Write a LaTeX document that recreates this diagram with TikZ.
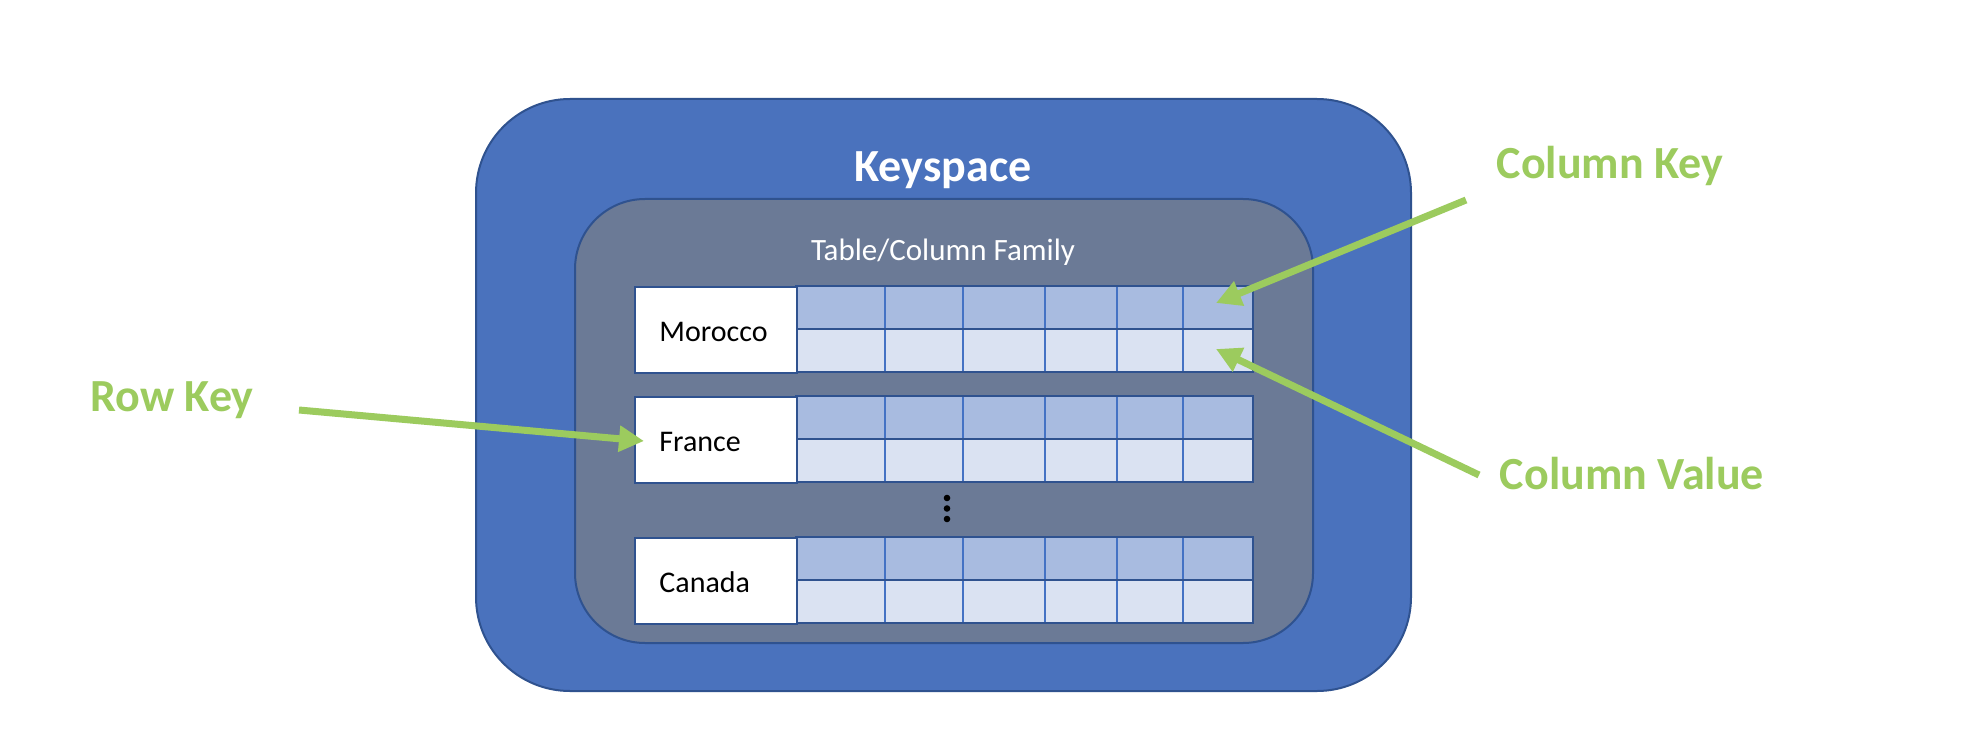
\documentclass[tikz,border=0pt]{standalone}
\usepackage{fontspec}
\setmainfont{Carlito}
\usetikzlibrary{arrows.meta}
\definecolor{ksfill}{HTML}{4A72BD}
\definecolor{ksline}{HTML}{2F528F}
\definecolor{tbfill}{HTML}{6B7A96}
\definecolor{toprow}{HTML}{A8BBE0}
\definecolor{botrow}{HTML}{DAE2F2}
\definecolor{colline}{HTML}{4472C4}
\definecolor{keygreen}{HTML}{9CCB5E}
\tikzset{
  keyspacebox/.style={fill=ksfill, draw=ksline, line width=1pt, rounded corners=47pt},
  tablebox/.style={fill=tbfill, draw=ksline, line width=1pt, rounded corners=35pt},
  labbox/.style={draw=ksline, fill=white, line width=1.2pt, minimum width=81pt, minimum height=43pt, anchor=north west, inner sep=0pt},
  labtext/.style={font=\fontsize{15}{18}\selectfont, anchor=base west, inner sep=0pt},
  greenlab/.style={font=\fontsize{23}{27}\selectfont\bfseries, text=keygreen, inner sep=0pt},
  greenarrow/.style={draw=keygreen, line width=3.5pt, -{Triangle[length=12.5pt,width=12.5pt]}},
  gridouter/.style={draw=ksline, line width=1.3pt},
  gridcol/.style={draw=colline, line width=0.6pt}
}
\begin{document}
\begin{tikzpicture}[x=0.5pt,y=-0.5pt]
\useasboundingbox (0,0) rectangle (1974,754);
\fill[white] (0,0) rectangle (1974,754);
% Keyspace
\draw[keyspacebox] (476,99) rectangle (1411,691);
\node[font=\fontsize{23}{27}\selectfont\bfseries, text=white, anchor=base, inner sep=0pt] (ks) at (943,182) {Keyspace};
% Table / Column family
\draw[tablebox] (575,199) rectangle (1313,643);
\node[font=\fontsize{15.5}{18}\selectfont, text=white, anchor=base, inner sep=0pt] (tb) at (943,260) {Table/Column Family};
% rows
\foreach \nm/\lab/\tp in {mor/Morocco/286, fra/France/396, can/Canada/537}{
  \fill[toprow] (796,\tp) rectangle ({1253},{\tp+43});
  \fill[botrow] (796,{\tp+43}) rectangle ({1253},{\tp+86});
  \foreach \cx in {885,963,1045,1117,1183}{
    \draw[gridcol] (\cx,\tp) -- (\cx,{\tp+86});
  }
  \draw[gridouter] (796,{\tp+43}) -- (1253,{\tp+43});
  \draw[gridouter] (796,\tp) rectangle (1253,{\tp+86});
  \node[labbox] (\nm) at (634,\tp) {};
  \node[labtext] (\nm-t) at (659,{\tp+55}) {\lab};
}
% dots
\foreach \dy in {498,508.5,519}{
  \fill[black] (947,\dy) circle (3.3);
}
% labels
\node[greenlab] (rowkey) at (172,400) {Row Key};
\node[greenlab] (colkey) at (1610,166) {Column Key};
\node[greenlab] (colval) at (1632,474) {Column Value};
% arrow endpoints
\coordinate (rk-s) at (299,410);
\coordinate (rk-e) at (644,441);
\coordinate (ck-s) at (1466,200);
\coordinate (ck-e) at (1216,303);
\coordinate (cv-s) at (1479,475);
\coordinate (cv-e) at (1216,349);
\draw[greenarrow] (rk-s) -- (rk-e);
\draw[greenarrow] (ck-s) -- (ck-e);
\draw[greenarrow] (cv-s) -- (cv-e);
\end{tikzpicture}
\end{document}
